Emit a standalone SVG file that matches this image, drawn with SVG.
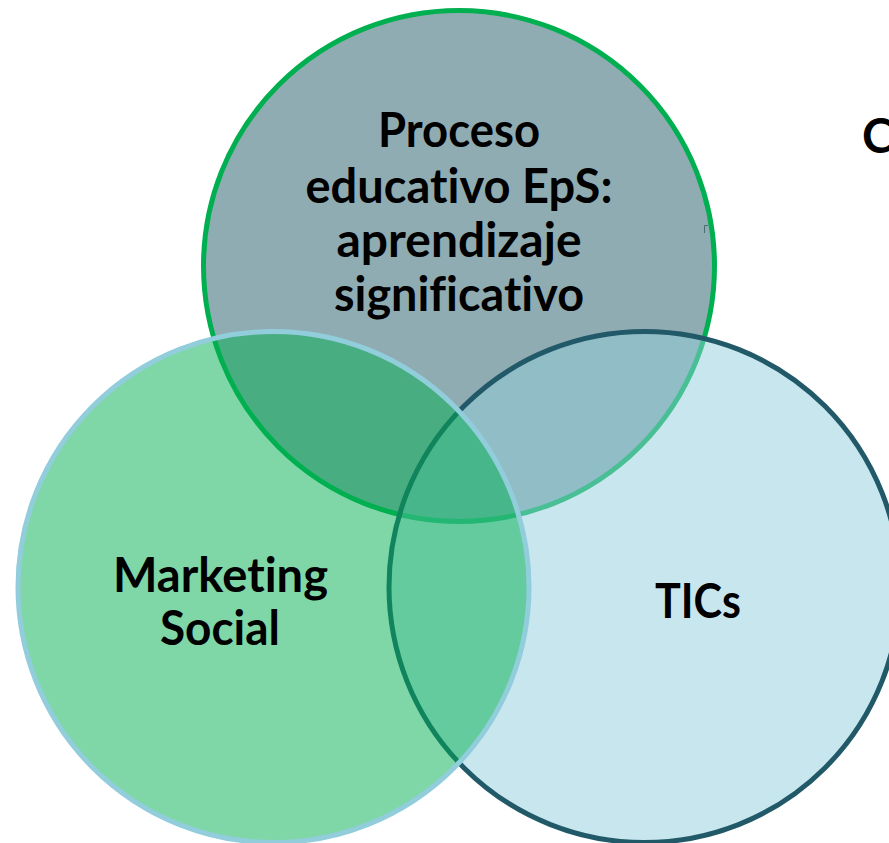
<svg xmlns="http://www.w3.org/2000/svg" width="889" height="843" viewBox="0 0 889 843">
  <style>
    .ring { stroke-width: 5; fill-opacity: 0.5; }
    .label { font-family: Lato, "Open Sans", "Liberation Sans", sans-serif; font-weight: bold; font-size: 48px; fill: #000000; text-anchor: middle; font-variant-ligatures: none; font-feature-settings: "liga" 0, "clig" 0; }
  </style>
  <rect width="889" height="843" fill="#ffffff"/>

  <!-- Venn sets: drawn top, right, left so later fills tint earlier outlines -->
  <g id="proceso-educativo">
    <circle class="ring" cx="459" cy="266" r="255.5" fill="#215968" stroke="#00B050"/>
  </g>
  <g id="tics">
    <circle class="ring" cx="644.5" cy="587" r="255.5" fill="#92CDDC" stroke="#215968"/>
  </g>
  <g id="marketing-social">
    <circle class="ring" cx="273.5" cy="587" r="255.5" fill="#00B050" stroke="#92CDDC"/>
  </g>

  <!-- labels -->
  <g id="proceso-educativo-label">
    <text class="label" x="459" y="147" textLength="162" lengthAdjust="spacingAndGlyphs">Proceso</text>
    <text class="label" x="459" y="203" textLength="307" lengthAdjust="spacingAndGlyphs">educativo EpS:</text>
    <text class="label" x="459" y="257" textLength="245" lengthAdjust="spacingAndGlyphs">aprendizaje</text>
    <text class="label" x="459" y="311" textLength="250" lengthAdjust="spacingAndGlyphs">significativo</text>
  </g>
  <g id="marketing-social-label">
    <text class="label" x="220.5" y="592" textLength="215" lengthAdjust="spacingAndGlyphs">Marketing</text>
    <text class="label" x="220" y="645" textLength="120" lengthAdjust="spacingAndGlyphs">Social</text>
  </g>
  <g id="tics-label">
    <text class="label" x="698" y="618" textLength="86" lengthAdjust="spacingAndGlyphs">TICs</text>
  </g>

  <!-- heading fragment at the right edge -->
  <text class="label" x="862" y="153" style="text-anchor:start">C</text>

  <!-- small corner mark -->
  <path d="M704.5 233 V225.5 H708" fill="none" stroke="#4a6a74" stroke-width="1"/>
</svg>
